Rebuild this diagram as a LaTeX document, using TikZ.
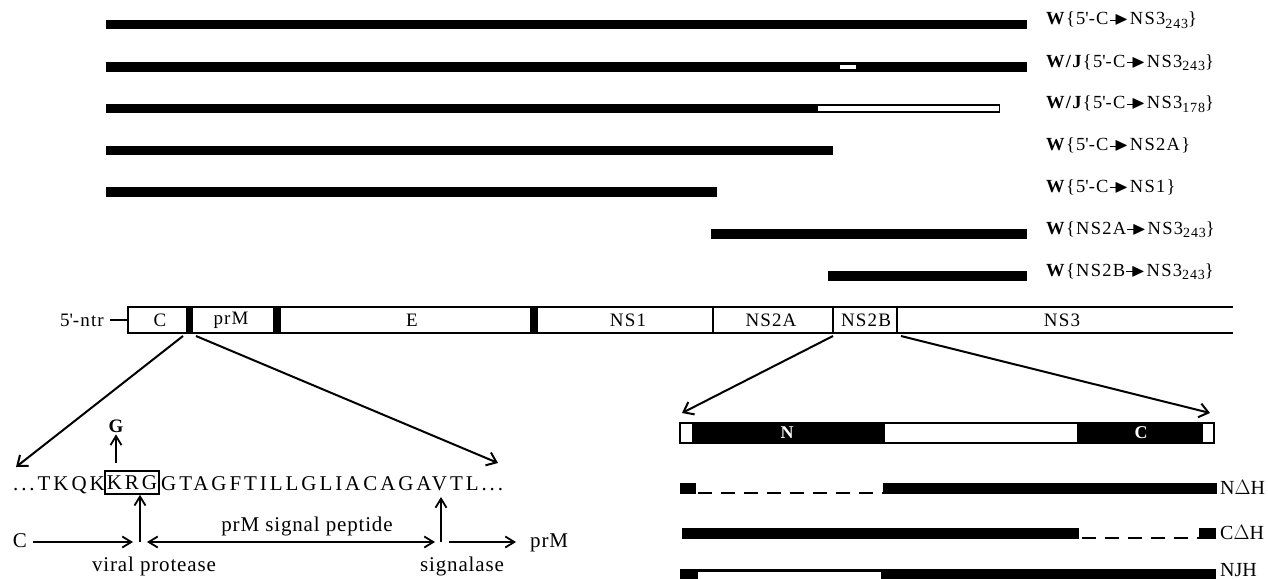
\documentclass[tikz,border=0pt]{standalone}
\usepackage{amssymb}
\usepackage{fontspec}
\setmainfont{Liberation Serif}
\usetikzlibrary{arrows.meta}
% small filled arrow used inside the construct names
\newcommand\conv{\kern1pt\rule[4pt]{7pt}{1pt}\kern-2.5pt$\blacktriangleright$\kern1.5pt}
% lowered residue count after NS3
\newcommand\lowsub[1]{\raisebox{-3.8pt}{\fontsize{14}{15}\selectfont\addfontfeatures{LetterSpace=6}#1}}
\begin{document}
\begin{tikzpicture}[x=1pt,y=-1pt,
  construct/.style={fill=black},
  clbl/.style={anchor=base west,inner sep=0pt,
    font=\fontsize{18.5}{20}\selectfont\addfontfeatures{LetterSpace=7}},
  glbl/.style={inner sep=0pt,
    font=\fontsize{19}{21}\selectfont\addfontfeatures{LetterSpace=6}},
  seqtxt/.style={inner sep=0pt,
    font=\fontsize{21}{23}\selectfont\addfontfeatures{LetterSpace=14}},
  note/.style={inner sep=0pt,anchor=base,
    font=\fontsize{21}{23}\selectfont\addfontfeatures{LetterSpace=4}},
  dlbl/.style={inner sep=0pt,anchor=base west,font=\fontsize{20}{22}\selectfont},
  bigarrow/.style={line width=2pt,-{Straight Barb[length=9pt,width=14pt]}},
  sarrow/.style={line width=1.8pt,-{Straight Barb[length=9pt,width=11pt]}},
  dblarrow/.style={line width=1.8pt,{Straight Barb[length=9pt,width=11pt]}-{Straight Barb[length=9pt,width=11pt]}},
  gap/.style={line width=2pt,dash pattern=on 14pt off 9pt},
  dom/.style={inner sep=0pt,text=white,font=\fontsize{18}{20}\selectfont\bfseries}]
\useasboundingbox (0,0) rectangle (1268,578);

% ---- constructs ----
\fill[construct] (106,20)    rectangle (1027,29.5);
\fill[construct] (106,62)    rectangle (1027,71.5);
\fill[white]     (840,65)    rectangle (856,69);
\fill[construct] (106,103.5) rectangle (1000,113);
\fill[white]     (817.5,105.5) rectangle (998.5,111);
\fill[construct] (106,145.5) rectangle (833,155);
\fill[construct] (106,187)   rectangle (717,196.5);
\fill[construct] (711,229)   rectangle (1027,238.5);
\fill[construct] (828,271)   rectangle (1027,280.5);

\node[clbl] (k1) at (1046,25)    {\textbf{W}\{5\textquotesingle-C\conv NS3\lowsub{243}\}};
\node[clbl] (k2) at (1046,67)    {\textbf{W/J}\{5\textquotesingle-C\conv NS3\lowsub{243}\}};
\node[clbl] (k3) at (1046,108.5) {\textbf{W/J}\{5\textquotesingle-C\conv NS3\lowsub{178}\}};
\node[clbl] (k4) at (1046,150.5) {\textbf{W}\{5\textquotesingle-C\conv NS2A\}};
\node[clbl] (k5) at (1046,192)   {\textbf{W}\{5\textquotesingle-C\conv NS1\}};
\node[clbl] (k6) at (1046,234)   {\textbf{W}\{NS2A\conv NS3\lowsub{243}\}};
\node[clbl] (k7) at (1046,276)   {\textbf{W}\{NS2B\conv NS3\lowsub{243}\}};

% ---- genome ----
\draw[line width=2pt] (1233,307) -- (128,307) -- (128,333) -- (1233,333);
\fill (185.5,307) rectangle (192.5,333);
\fill (273,307)   rectangle (281,333);
\fill (530,307)   rectangle (538,333);
\draw[line width=1.5pt] (713,307) -- (713,333);
\draw[line width=1.5pt] (833,307) -- (833,333);
\draw[line width=1.5pt] (897,307) -- (897,333);

\node[glbl,anchor=base east] (ntr) at (104,326.5) {5\textquotesingle-ntr};
\draw[line width=2pt] (110,320) -- (128,320);
\node[glbl] (gC)    at (160,320) {C};
\node[glbl] (gprM)  at (231,320) {prM};
\node[glbl] (gE)    at (412,320) {E};
\node[glbl] (gNS1)  at (628,320) {NS1};
\node[glbl] (gNS2A) at (771,320) {NS2A};
\node[glbl] (gNS2B) at (866,320) {NS2B};
\node[glbl] (gNS3)  at (1062,320) {NS3};

\coordinate (cpL) at (183,336);
\coordinate (cpR) at (196,336);
\coordinate (nbL) at (833,336);
\coordinate (nbR) at (901,336);
\coordinate (tipSeqL) at (16,467);
\coordinate (tipSeqR) at (498,463);
\coordinate (tipDomL) at (682,413);
\coordinate (tipDomR) at (1210,413);
\draw[bigarrow] (cpL) -- (tipSeqL);
\draw[bigarrow] (cpR) -- (tipSeqR);
\draw[bigarrow] (nbL) -- (tipDomL);
\draw[bigarrow] (nbR) -- (tipDomR);

% ---- C / prM junction ----
\node[seqtxt,anchor=base east] (seqL) at (105,490) {...TKQK};
\node[seqtxt,draw,line width=1.6pt,minimum width=54pt,minimum height=23pt,text depth=0pt] (krg) at (132,482.5) {KRG};
\node[seqtxt,anchor=base west] (seqR) at (161,490) {GTAGFTILLGLIACAGAVTL...};

\node[inner sep=2pt,anchor=base,font=\fontsize{19}{21}\selectfont\bfseries] (mut) at (116,432) {G};
\coordinate (mutfoot) at (116,463);
\draw[sarrow] (mutfoot) -- (mut.south);

\coordinate (vp) at (140,542);
\coordinate (sg) at (441,542);
\draw[sarrow] (vp) -- (vp |- krg.south);
\draw[sarrow] (sg) -- (441,497);

\node[note] (lC) at (20,547) {C};
\coordinate (cA) at (33,542);
\coordinate (cB) at (133,542);
\coordinate (pA) at (147,542);
\coordinate (pB) at (435,542);
\coordinate (mA) at (449,542);
\coordinate (mB) at (516,542);
\draw[sarrow] (cA) -- (cB);
\draw[dblarrow] (pA) -- (pB);
\draw[sarrow] (mA) -- (mB);
\node[note,anchor=base west] (lprM) at (530,547) {prM};
\node[note] (lsig) at (307,531.5) {prM signal peptide};
\node[note] (lvp) at (154,571.5) {viral protease};
\node[note] (lsg) at (462,571.5) {signalase};

% ---- NS2B/NS3 domains ----
\draw[line width=1.2pt,fill=white] (680,423) rectangle (1214,443);
\fill (692,423)  rectangle (885,443);
\fill (1077,423) rectangle (1203,443);
\node[dom] (dN) at (787,433) {N};
\node[dom] (dC) at (1141,433) {C};

\fill (680,483) rectangle (696,494);
\draw[gap] (698,493) -- (883,493);
\fill (883,483) rectangle (1217,494);
\node[dlbl] (lND) at (1220,494) {N$\Delta$H};

\fill (682,528) rectangle (1079,539);
\draw[gap] (1082,538) -- (1199,538);
\fill (1199,528) rectangle (1216,539);
\node[dlbl] (lCD) at (1220,539) {C$\Delta$H};

\fill (680,569) rectangle (1216,581);
\draw[line width=1.2pt,fill=white] (697,571) rectangle (882,582);
\node[dlbl] (lNJ) at (1220,576) {NJH};
\end{tikzpicture}
\end{document}
